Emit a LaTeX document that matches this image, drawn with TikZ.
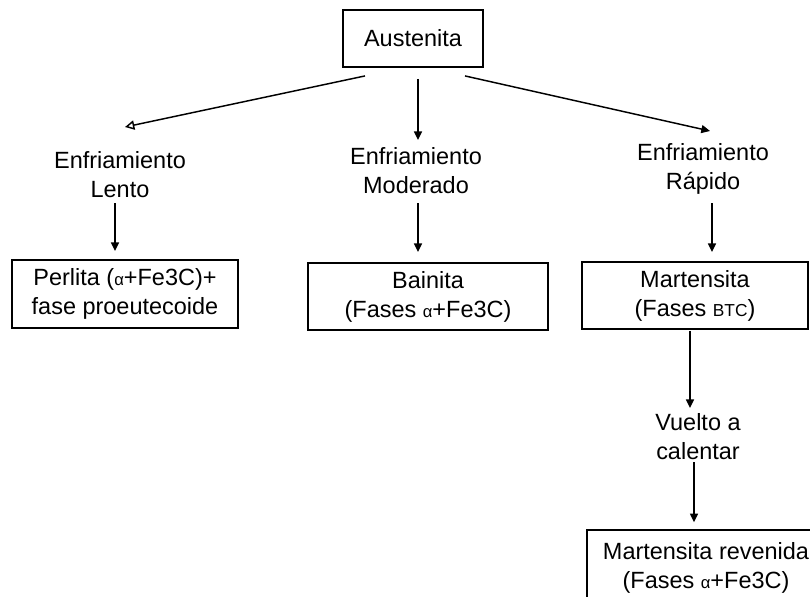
\documentclass[tikz,border=0pt]{standalone}
\usepackage{fontspec}
\setmainfont{Liberation Sans}
\usetikzlibrary{arrows.meta}
\newcommand{\smalla}{{\fontsize{12.5pt}{12.5pt}\selectfont α}}
\newcommand{\smallbtc}{{\fontsize{13pt}{13pt}\selectfont BTC}}
\begin{document}
\begin{tikzpicture}[x=0.75pt,y=-0.75pt,
  every node/.style={font=\fontsize{17.6pt}{21.75pt}\selectfont, align=center},
  boxnode/.style={draw, line width=1.4pt, inner sep=0pt},
  lbl/.style={inner sep=0pt},
  arr/.style={line width=1.1pt, -{Triangle[length=6.5pt,width=6pt]}},
  oarr/.style={line width=1.1pt, -{Triangle[open,length=7pt,width=7pt]}}]
\useasboundingbox (0,0) rectangle (810,596);
\node[boxnode, minimum width=105pt, minimum height=42.75pt] (aus) at (413,38.5) {Austenita};
\node[lbl] (lento) at (120,175) {Enfriamiento\\Lento};
\node[lbl] (mod) at (416,171) {Enfriamiento\\Moderado};
\node[lbl] (rap) at (703,169) {Enfriamiento\\Rápido};
\node[boxnode, minimum width=169.5pt, minimum height=51pt] (perl) at (125,294) {Perlita (\smalla+Fe3C)+\\fase proeutecoide};
\node[boxnode, minimum width=180pt, minimum height=50.25pt] (bain) at (428,296.5) {Bainita\\(Fases \smalla+Fe3C)};
\node[boxnode, minimum width=169.5pt, minimum height=50.25pt] (mart) at (695,295.5) {Martensita\\(Fases \smallbtc)};
\node[lbl] (vuel) at (698,437) {Vuelto a\\calentar};
\node[boxnode, minimum width=178pt, minimum height=56pt] (rev) at (706,567.5) {Martensita revenida\\(Fases \smalla+Fe3C)};
\draw[oarr] ([shift={(-48,8)}]aus.south) -- ([shift={(5,-48)}]lento.center);
\draw[arr] ([shift={(5,11)}]aus.south) -- ([shift={(2,-31)}]mod.center);
\draw[arr] ([shift={(52,8)}]aus.south) -- ([shift={(7,-38)}]rap.center);
\draw[arr] ([shift={(-5,28)}]lento.center) -- ([shift={(-10,-8)}]perl.north);
\draw[arr] ([shift={(2,32)}]mod.center) -- ([shift={(-10,-10)}]bain.north);
\draw[arr] ([shift={(9,34)}]rap.center) -- ([shift={(17,-9)}]mart.north);
\draw[arr] ([shift={(-5,1)}]mart.south) -- ([shift={(-8,-29)}]vuel.center);
\draw[arr] ([shift={(-4,25)}]vuel.center) -- ([shift={(-12,-7)}]rev.north);
\end{tikzpicture}
\end{document}
